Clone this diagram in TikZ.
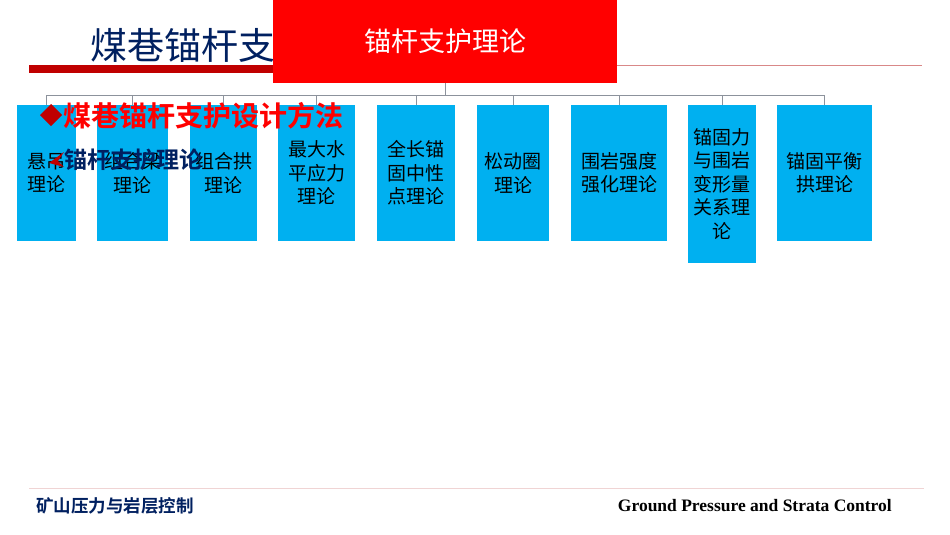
\documentclass[tikz,border=0pt]{standalone}
\usepackage{fontspec}
\setmainfont{Liberation Serif}
\newfontfamily\cjk{Noto Sans CJK SC}
\newfontfamily\cjkb{Noto Sans CJK SC}[BoldFont={Noto Sans CJK SC Bold}]
\definecolor{boxcyan}{HTML}{00B0F0}
\definecolor{navy}{HTML}{002060}
\definecolor{brightred}{HTML}{FF0000}
\definecolor{darkred}{HTML}{C00000}
\definecolor{conngray}{HTML}{8C929C}
\definecolor{pinkline}{HTML}{D98888}
\definecolor{footline}{HTML}{F0D4D4}
\begin{document}
\begin{tikzpicture}[x=1pt,y=-1pt,
  box/.style={fill=boxcyan, draw=none, inner sep=0pt, minimum height=136pt, align=center,
    text=black, font=\cjk\fontsize{19}{23.5}\selectfont},
  conn/.style={draw=conngray, line width=1pt},
  topbox/.style={fill=brightred, draw=none, inner sep=0pt, minimum width=344pt, minimum height=83pt,
    text=white, font=\cjk\fontsize{27}{32}\selectfont}]
\useasboundingbox (0,0) rectangle (950,535);
\fill[white] (0,0) rectangle (950,535);
% title
\node[anchor=west, inner sep=0pt, text=navy, font=\cjk\fontsize{37}{40}\selectfont] (title) at (90,45) {煤巷锚杆支};
\fill[darkred] (29,65) rectangle (273,73);
\coordinate (lineL) at (617,66);
\coordinate (lineR) at (922,66);
\draw[pinkline, line width=1pt] (lineL) -- (lineR);
% boxes
\node[box, minimum width=59pt] (b1) at (46.5,173) {悬吊\\理论};
\node[box, minimum width=71pt] (b2) at (132.5,173) {组合梁\\理论};
\node[box, minimum width=67pt] (b3) at (223.5,173) {组合拱\\理论};
\node[box, minimum width=77pt] (b4) at (316.5,173) {最大水\\平应力\\理论};
\node[box, minimum width=78pt] (b5) at (416,173) {全长锚\\固中性\\点理论};
\node[box, minimum width=72pt] (b6) at (513,173) {松动圈\\理论};
\node[box, minimum width=96pt] (b7) at (619,173) {围岩强度\\强化理论};
\node[box, minimum width=68pt, minimum height=158pt] (b8) at (722,184) {锚固力\\与围岩\\变形量\\关系理\\论};
\node[box, minimum width=95pt] (b9) at (824.5,173) {锚固平衡\\拱理论};
% top box
\node[topbox] (top) at (445,41.5) {锚杆支护理论};
% connectors
\coordinate (bus) at (445,95);
\draw[conn] (top.south) -- (top.south |- bus);
\draw[conn] (b1.north |- bus) -- (b9.north |- bus);
\foreach \b in {b1,b2,b3,b4,b5,b6,b7,b8,b9} {
  \draw[conn] (\b.north |- bus) -- (\b.north);
}
% overlay bullet texts
\coordinate (dc) at (51,115);
\fill[darkred] (dc) ++(-11,0) -- ++(11,-11) -- ++(11,11) -- ++(-11,11) -- cycle;
\node[anchor=west, inner sep=0pt, text=brightred, font=\cjkb\bfseries\fontsize{28}{32}\selectfont] (sub1) at (63,116) {煤巷锚杆支护设计方法};
\fill[darkred] (49,163) -- (64,152) -- (58,161) -- (64,167) -- cycle;
\node[anchor=west, inner sep=0pt, text=navy, font=\cjkb\bfseries\fontsize{23}{27}\selectfont] (sub2) at (64,160) {锚杆支护理论};
% footer
\coordinate (fL) at (29,488);
\coordinate (fR) at (924,488);
\draw[footline, line width=1pt] (fL) -- (fR);
\node[anchor=west, inner sep=0pt, text=navy, font=\cjkb\bfseries\fontsize{17.5}{20}\selectfont] (foot1) at (36,506) {矿山压力与岩层控制};
\node[anchor=east, inner sep=0pt, text=black, font=\bfseries\fontsize{17.5}{20}\selectfont] (foot2) at (892,506) {Ground Pressure and Strata Control};
\end{tikzpicture}
\end{document}
